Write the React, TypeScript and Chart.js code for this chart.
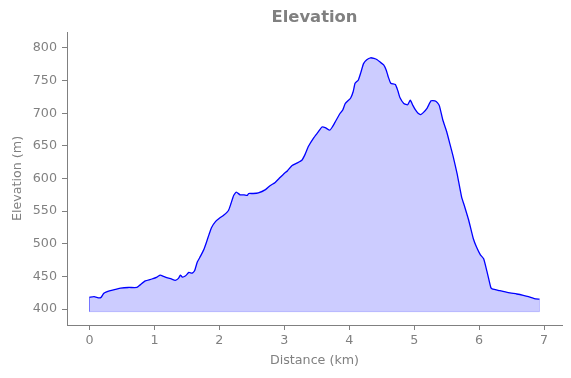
import React, { useEffect, useRef } from "react";
import { Chart, registerables } from "chart.js";

Chart.register(...registerables);

const distanceKm = [
  0.0, 0.07, 0.15, 0.18, 0.22, 0.32, 0.4, 0.48, 0.6, 0.73, 0.78, 0.86, 0.96, 1.04, 1.09, 1.14,
  1.19, 1.26, 1.32, 1.37, 1.4, 1.43, 1.48, 1.53, 1.58, 1.62, 1.66, 1.71, 1.76, 1.8, 1.84, 1.88,
  1.94, 2.0, 2.07, 2.14, 2.18, 2.22, 2.26, 2.32, 2.38, 2.43, 2.45, 2.52, 2.6, 2.71, 2.78, 2.86,
  2.92, 2.99, 3.05, 3.12, 3.2, 3.27, 3.32, 3.37, 3.45, 3.52, 3.58, 3.63, 3.7, 3.74, 3.78, 3.86,
  3.9, 3.94, 4.02, 4.06, 4.09, 4.14, 4.18, 4.22, 4.27, 4.33, 4.38, 4.43, 4.48, 4.53, 4.57, 4.6,
  4.64, 4.71, 4.75, 4.78, 4.84, 4.9, 4.94, 4.98, 5.02, 5.06, 5.1, 5.14, 5.2, 5.26, 5.32, 5.36,
  5.39, 5.44, 5.5, 5.55, 5.6, 5.66, 5.73, 5.78, 5.84, 5.91, 5.96, 6.02, 6.07, 6.12, 6.18, 6.2,
  6.32, 6.45, 6.58, 6.68, 6.76, 6.85, 6.93,
];

const elevationM = [
  418, 419, 417, 418, 424, 428, 430, 432, 433, 433, 437, 443, 446, 449, 452, 450,
  448, 446, 444, 447, 452, 449, 451, 456, 455, 459, 472, 481, 491, 502, 514, 525,
  534, 539, 544, 551, 562, 574, 579, 575, 575, 574, 577, 577, 578, 583, 589, 594,
  600, 607, 612, 620, 624, 628, 637, 649, 662, 671, 679, 678, 674, 679, 686, 700,
  705, 715, 723, 733, 746, 751, 763, 776, 782, 785, 784, 782, 778, 774, 766, 756,
  746, 744, 734, 724, 715, 713, 720, 712, 705, 700, 698, 701, 708, 719, 719, 716,
  711, 690, 672, 653, 634, 608, 572, 556, 536, 508, 495, 483, 477, 458, 433, 431,
  428, 425, 423, 421, 419, 416, 415,
];

const fillBase = 396;
const xTicks = [0, 1, 2, 3, 4, 5, 6, 7];
const yTicks = [400, 450, 500, 550, 600, 650, 700, 750, 800];
const titleText = "Elevation";
const xLabel = "Distance (km)";
const yLabel = "Elevation (m)";

const GRAY = "#808080";
const FONT = "'DejaVu Sans', sans-serif";

export default function App() {
  const ref = useRef<HTMLCanvasElement | null>(null);

  useEffect(() => {
    document.body.style.margin = "0";
    const canvas = ref.current;
    if (!canvas) return;

    const n = distanceKm.length;
    const first = distanceKm[0];
    const last = distanceKm[n - 1];
    const span = last - first;

    const linePts = distanceKm.map((x, i) => ({ x, y: elevationM[i] }));
    const edgePts = [
      { x: first, y: elevationM[0] },
      { x: first, y: fillBase },
      { x: last, y: fillBase },
      { x: last, y: elevationM[n - 1] },
    ];

    const titlePlugin = {
      id: "customTitle",
      afterDraw(chart: any) {
        const { ctx, chartArea } = chart;
        ctx.save();
        ctx.font = `bold 16.4px ${FONT}`;
        ctx.fillStyle = GRAY;
        ctx.textAlign = "center";
        ctx.textBaseline = "middle";
        ctx.fillText(titleText, (chartArea.left + chartArea.right) / 2, 18);
        ctx.restore();
      },
    };

    const chart = new Chart(canvas, {
      type: "line",
      data: {
        datasets: [
          {
            data: edgePts,
            borderColor: "rgba(0,0,255,0.22)",
            borderWidth: 1,
            pointRadius: 0,
            fill: false,
            tension: 0,
          },
          {
            data: linePts,
            borderColor: "#0000ff",
            borderWidth: 1.3,
            pointRadius: 0,
            tension: 0.15,
            fill: { value: fillBase },
            backgroundColor: "rgba(0,0,255,0.2)",
          },
        ],
      },
      options: {
        animation: false,
        responsive: true,
        maintainAspectRatio: false,
        layout: { padding: { top: 32, right: 9, left: 0, bottom: 0 } },
        plugins: {
          legend: { display: false },
          tooltip: { enabled: false },
          title: { display: false },
        },
        scales: {
          x: {
            type: "linear",
            min: first - 0.05 * span,
            max: last + 0.05 * span,
            afterBuildTicks: (scale: any) => {
              scale.ticks = xTicks.map((v) => ({ value: v }));
            },
            afterFit: (scale: any) => {
              scale.height = 53;
            },
            grid: {
              drawOnChartArea: false,
              drawTicks: true,
              tickLength: 5,
              color: GRAY,
            },
            border: { display: true, color: GRAY, width: 1 },
            ticks: {
              color: GRAY,
              font: { family: FONT, size: 12.7 },
              padding: 3,
              maxRotation: 0,
              autoSkip: false,
              callback: (v: any) => String(v),
            },
            title: {
              display: true,
              text: xLabel,
              color: GRAY,
              font: { family: FONT, size: 12.7 },
              padding: { top: 0, bottom: 9.5 },
            },
          },
          y: {
            type: "linear",
            min: 375.5,
            max: 824.5,
            afterBuildTicks: (scale: any) => {
              scale.ticks = yTicks.map((v) => ({ value: v }));
            },
            afterFit: (scale: any) => {
              scale.width = 67;
            },
            grid: {
              drawOnChartArea: false,
              drawTicks: true,
              tickLength: 5,
              color: GRAY,
            },
            border: { display: true, color: GRAY, width: 1 },
            ticks: {
              color: GRAY,
              font: { family: FONT, size: 12.7 },
              padding: 5,
              autoSkip: false,
              callback: (v: any) => String(v),
            },
            title: {
              display: true,
              text: yLabel,
              color: GRAY,
              font: { family: FONT, size: 12.7 },
              padding: { top: 10, bottom: 0 },
            },
          },
        },
      },
      plugins: [titlePlugin],
    });

    return () => chart.destroy();
  }, []);

  return (
    <div style={{ position: "relative", width: "571px", height: "378px" }}>
      <canvas ref={ref} />
    </div>
  );
}
